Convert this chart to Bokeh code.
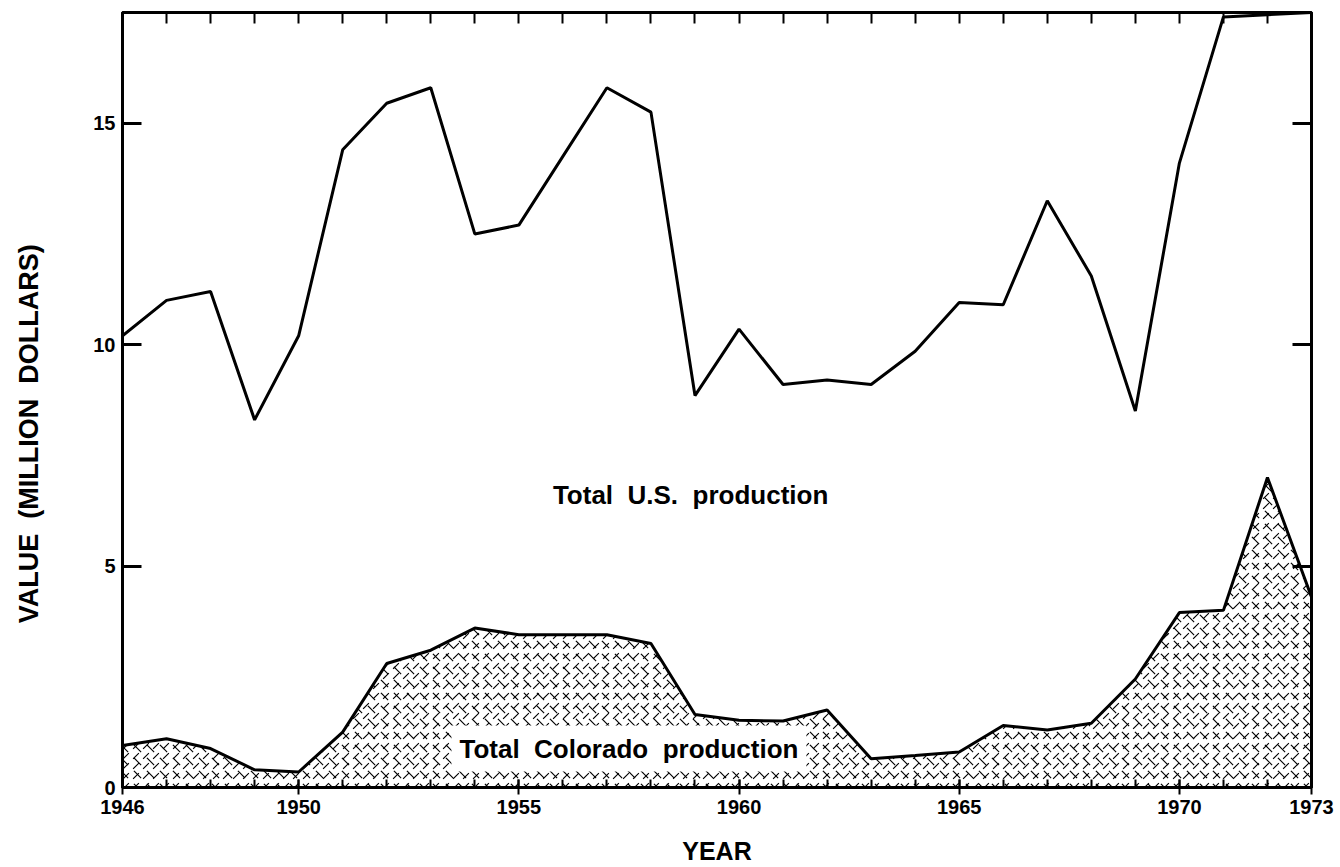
from bokeh.plotting import figure
from bokeh.models import Label, LinearAxis, FixedTicker, Range1d
from bokeh.embed import file_html
from bokeh.resources import INLINE

# ---- data ----
years = list(range(1946, 1974))
us_total = [10.2, 11.0, 11.2, 8.3, 10.2, 14.4, 15.45, 15.8, 12.5, 12.7, 14.25, 15.8, 15.25, 8.85,
            10.35, 9.1, 9.2, 9.1, 9.85, 10.95, 10.9, 13.25, 11.55, 8.5, 14.1, 17.4, 17.45, 17.5]
colorado = [0.95, 1.1, 0.88, 0.4, 0.35, 1.25, 2.8, 3.1, 3.6, 3.45, 3.45, 3.45, 3.25, 1.65,
            1.52, 1.5, 1.75, 0.65, 0.72, 0.8, 1.4, 1.3, 1.45, 2.45, 3.95, 4.0, 7.0, 4.3]
x_tick_labels = [1946, 1950, 1955, 1960, 1965, 1970, 1973]
y_ticks = [0, 5, 10, 15]

FONT = "Liberation Sans"

p = figure(width=1336, height=867, x_range=Range1d(1946, 1973), y_range=Range1d(0, 17.5),
           x_axis_type=None, y_axis_type=None, output_backend="svg", toolbar_location=None,
           min_border_left=122, min_border_right=25, min_border_top=12, min_border_bottom=71)
p.outline_line_color = "black"
p.outline_line_width = 3
p.background_fill_color = "white"
p.border_fill_color = "white"

# bottom axis
xb = LinearAxis(ticker=FixedTicker(ticks=x_tick_labels, minor_ticks=years))
xb.axis_line_width = 3
xb.major_tick_in = 8
xb.major_tick_out = 7
xb.minor_tick_in = 8
xb.minor_tick_out = 0
xb.major_tick_line_width = 2
xb.minor_tick_line_width = 2
xb.major_label_standoff = 5
xb.major_label_text_font = FONT
xb.major_label_text_font_size = "20px"
xb.major_label_text_font_style = "bold"
xb.major_label_text_color = "black"
xb.axis_label = "YEAR"
xb.axis_label_text_font = FONT
xb.axis_label_text_font_size = "25px"
xb.axis_label_text_font_style = "bold"
xb.axis_label_text_color = "black"
xb.axis_label_standoff = 20
p.add_layout(xb, "below")

# top axis (tick marks only)
xt = LinearAxis(ticker=FixedTicker(ticks=[], minor_ticks=years))
xt.axis_line_width = 3
xt.minor_tick_in = 11
xt.minor_tick_out = 0
xt.minor_tick_line_width = 2
p.add_layout(xt, "above")

# left axis
yl = LinearAxis(ticker=FixedTicker(ticks=y_ticks))
yl.axis_line_width = 3
yl.major_tick_in = 19
yl.major_tick_out = 0
yl.major_tick_line_width = 3
yl.major_label_standoff = 7
yl.major_label_text_font = FONT
yl.major_label_text_font_size = "20px"
yl.major_label_text_font_style = "bold"
yl.major_label_text_color = "black"
yl.axis_label = "VALUE\u00a0\u00a0(MILLION\u00a0\u00a0DOLLARS)" + "\u00a0" * 9
yl.axis_label_text_font = FONT
yl.axis_label_text_font_size = "27px"
yl.axis_label_text_font_style = "bold"
yl.axis_label_text_color = "black"
yl.axis_label_standoff = 46
p.add_layout(yl, "left")

# right axis (tick marks only)
yr = LinearAxis(ticker=FixedTicker(ticks=[], minor_ticks=y_ticks[1:]))
yr.axis_line_width = 3
yr.minor_tick_in = 19
yr.minor_tick_out = 0
yr.minor_tick_line_width = 3
p.add_layout(yr, "right")

# stippled Colorado area (layered dash hatches)
p.varea(x=years, y1=0, y2=colorado, fill_color="white", hatch_pattern="right_diagonal_dash",
        hatch_scale=10, hatch_weight=1.1, hatch_color="black")
p.varea(x=years, y1=0, y2=colorado, fill_alpha=0, hatch_pattern="left_diagonal_dash",
        hatch_scale=13, hatch_weight=1.1, hatch_color="black")
p.line(years, colorado, line_color="black", line_width=3)
p.line(years, us_total, line_color="black", line_width=3)

# in-plot labels
p.add_layout(Label(x=1958.9, y=6.6, text="Total\u00a0\u00a0U.S.\u00a0\u00a0production",
                   text_align="center", text_baseline="middle", text_font=FONT,
                   text_font_size="26px", text_font_style="bold", text_color="black"))
p.add_layout(Label(x=1957.5, y=0.88, text="Total\u00a0\u00a0Colorado\u00a0\u00a0production",
                   text_align="center", text_baseline="middle", text_font=FONT,
                   text_font_size="26px", text_font_style="bold", text_color="black",
                   background_fill_color="white", padding=8))

open("out.html", "w").write(file_html(p, INLINE))
